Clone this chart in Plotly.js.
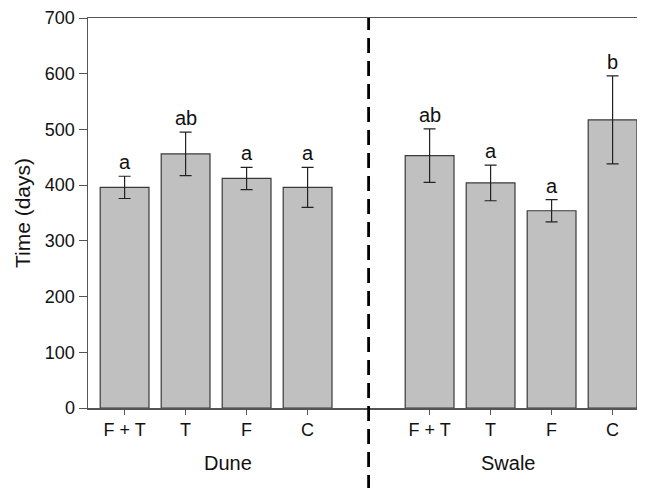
<!DOCTYPE html>
<html>
<head>
<meta charset="utf-8">
<script src="https://cdn.plot.ly/plotly-3.0.1.min.js"></script>
<style>html,body{margin:0;padding:0;background:#fff;}#chart{width:645px;height:488px;}</style>
</head>
<body>
<div id="chart"></div>
<script>
// Data
var treatments = ["F + T", "T", "F", "C"];
var sites = ["Dune", "Swale"];
var duneMeans = [396, 456, 412, 396];
var duneErrors = [20, 39, 20, 36];
var duneLetters = ["a", "ab", "a", "a"];
var swaleMeans = [453, 404, 354, 517];
var swaleErrors = [48, 32, 20, 79];
var swaleLetters = ["ab", "a", "a", "b"];

var dunePos = [0, 1, 2, 3];
var swalePos = [5, 6, 7, 8];
var dividerPos = 4;
var siteLabelPos = [1.7, 6.28];

var font = "'Liberation Sans', Arial, sans-serif";

function barTrace(pos, means, errs) {
  return {
    type: "bar",
    x: pos,
    y: means,
    width: 0.8,
    marker: {color: "#c0c0c0", line: {color: "#3a3a3a", width: 1.2}},
    error_y: {type: "data", array: errs, visible: true, color: "#222", thickness: 1.2, width: 6},
    hoverinfo: "skip",
    showlegend: false
  };
}

var annotations = [];
function addLetters(pos, means, errs, letters) {
  for (var i = 0; i < pos.length; i++) {
    annotations.push({
      x: pos[i], y: means[i] + errs[i], xref: "x", yref: "y",
      text: letters[i], showarrow: false, yanchor: "bottom", yshift: 1,
      font: {family: font, size: 20, color: "#111"}
    });
  }
}
addLetters(dunePos, duneMeans, duneErrors, duneLetters);
addLetters(swalePos, swaleMeans, swaleErrors, swaleLetters);

for (var s = 0; s < sites.length; s++) {
  annotations.push({x: siteLabelPos[s], y: -0.14, xref: "x", yref: "paper",
    text: sites[s], showarrow: false, yanchor: "middle",
    font: {family: font, size: 20, color: "#111"}});
}

var layout = {
  width: 645, height: 488,
  margin: {l: 88, r: 8, t: 18, b: 80},
  paper_bgcolor: "#fff", plot_bgcolor: "#fff",
  font: {family: font, size: 18, color: "#111"},
  xaxis: {
    range: [-0.6, 8.4],
    tickmode: "array",
    tickvals: dunePos.concat(swalePos),
    ticktext: treatments.concat(treatments),
    ticks: "outside", ticklen: 5, tickcolor: "#555", tickwidth: 1,
    showline: true, linecolor: "#555", linewidth: 1.5, mirror: true,
    showgrid: false, zeroline: false,
    tickfont: {family: font, size: 18, color: "#111"}
  },
  yaxis: {
    range: [0, 700],
    tickvals: [0, 100, 200, 300, 400, 500, 600, 700],
    ticks: "outside", ticklen: 8, tickcolor: "#555", tickwidth: 1,
    showline: true, linecolor: "#555", linewidth: 1.5,
    showgrid: false, zeroline: false,
    tickfont: {family: font, size: 18, color: "#111"},
    title: {text: "Time (days)", font: {family: font, size: 21, color: "#111"}, standoff: 8}
  },
  shapes: [{
    type: "line", xref: "x", yref: "paper",
    x0: dividerPos, x1: dividerPos, y0: -0.21, y1: 1,
    line: {color: "#000", width: 2.8, dash: "15px,8px"}
  }],
  annotations: annotations,
  bargap: 0.2
};

Plotly.newPlot("chart", [barTrace(dunePos, duneMeans, duneErrors), barTrace(swalePos, swaleMeans, swaleErrors)], layout, {staticPlot: true, displayModeBar: false});
</script>
</body>
</html>
